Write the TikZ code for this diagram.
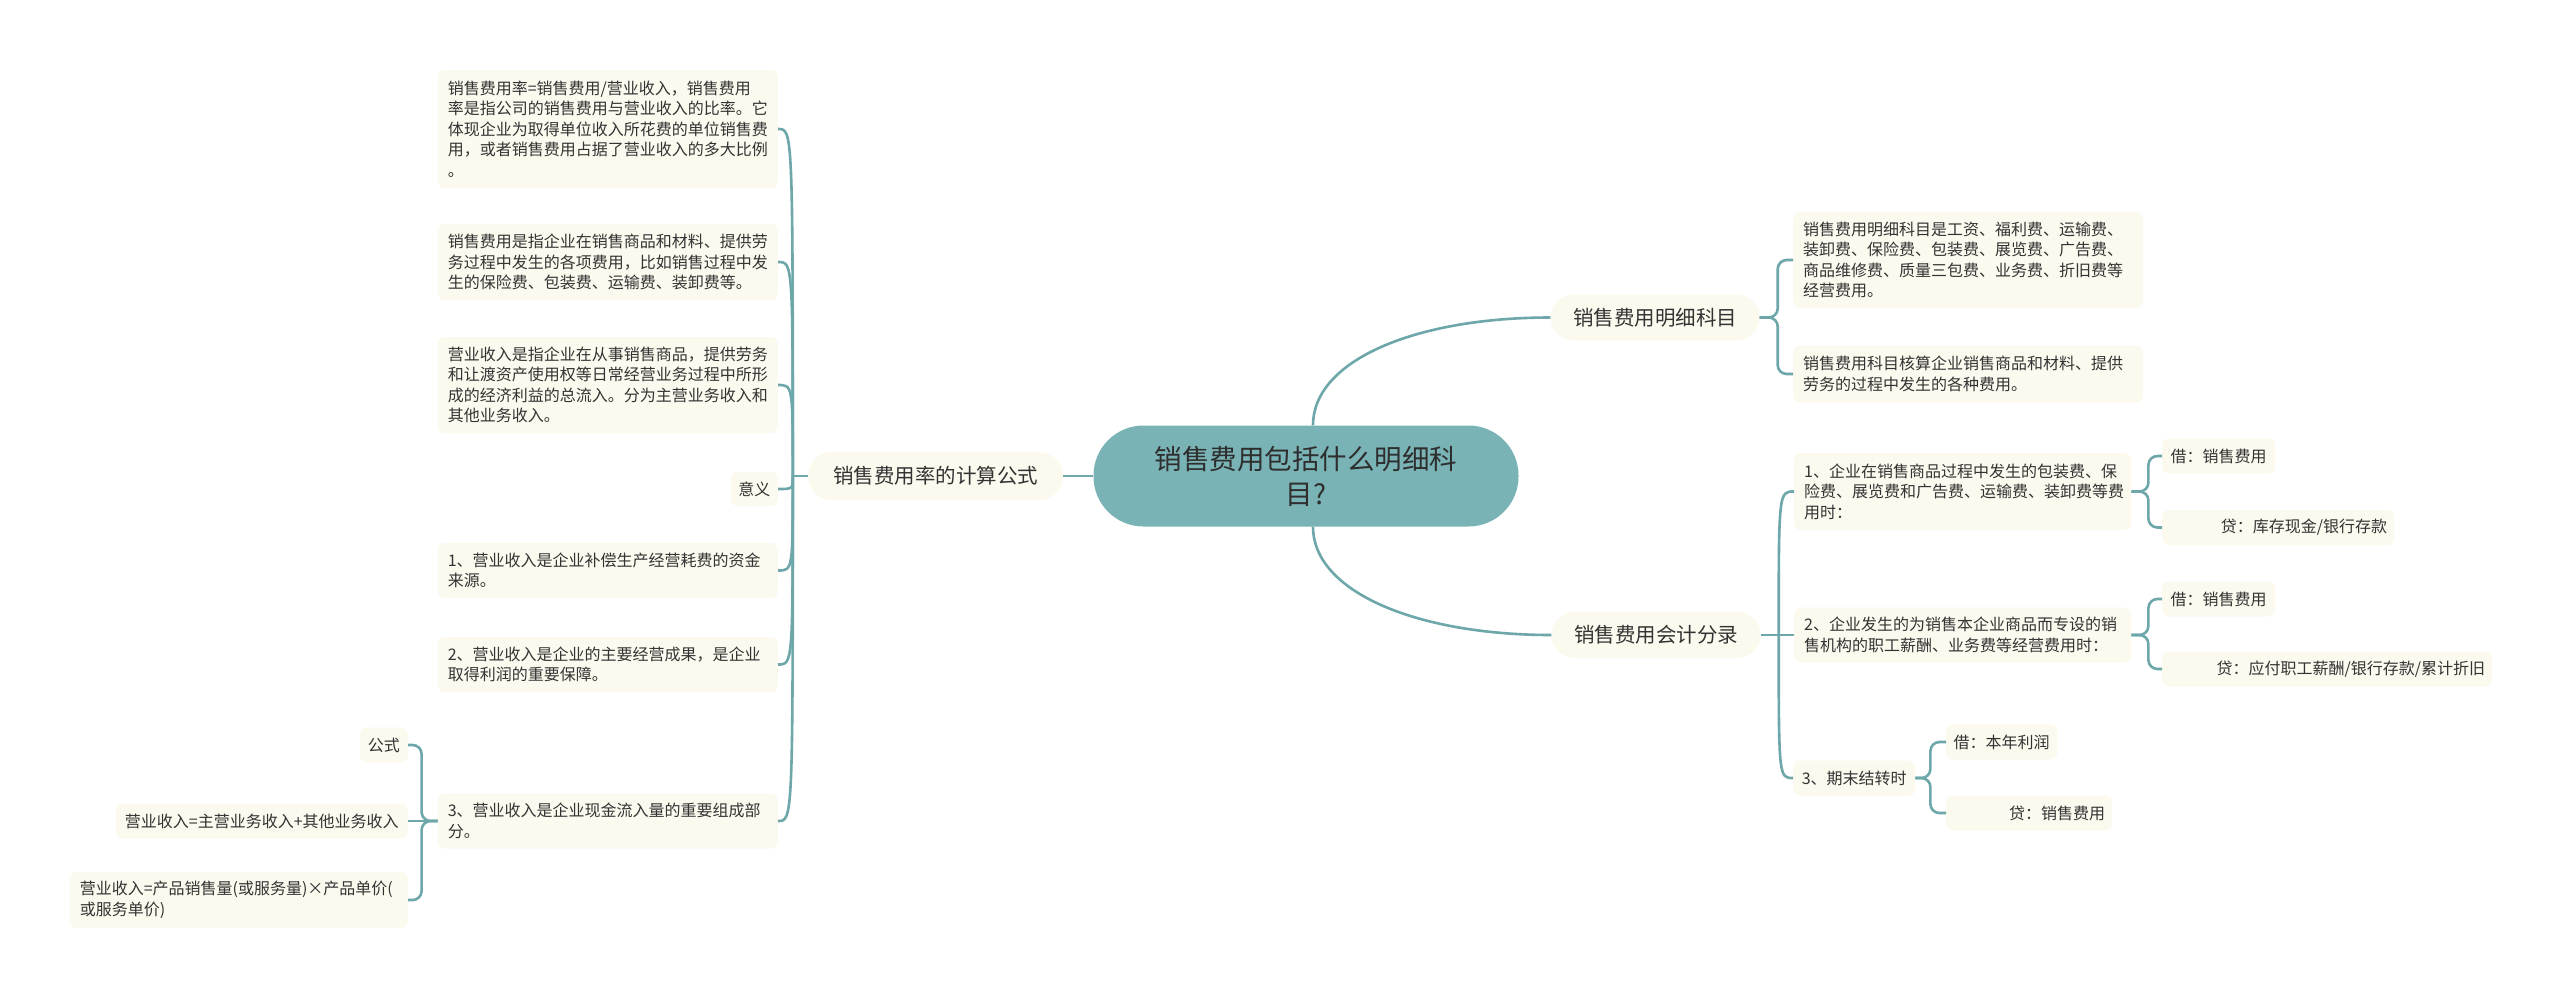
\documentclass[tikz,border=0pt]{standalone}
\usepackage{fontspec}
\newfontfamily\cjk{Noto Sans CJK SC}
\usetikzlibrary{calc}
\definecolor{lineteal}{HTML}{6DA7A9}
\definecolor{rootfill}{HTML}{7AB3B5}
\definecolor{cream}{HTML}{FCF9EE}
\definecolor{txt}{HTML}{333333}
\begin{document}
\begin{tikzpicture}[x=1pt,y=-1pt,
  conn/.style={draw=lineteal,line width=2.6pt},
  br/.style={draw=lineteal,line width=2.6pt,rounded corners=9pt},
  leaf/.style={fill=cream,rounded corners=7pt,inner xsep=10pt,inner ysep=0pt,text=txt,
    font=\cjk\fontsize{16}{20.5}\selectfont,align=left},
  tag/.style={fill=cream,rounded corners=7pt,inner xsep=7pt,inner ysep=0pt,text=txt,
    font=\cjk\fontsize{16}{20.5}\selectfont,minimum height=35pt},
  lone/.style={fill=cream,rounded corners=23pt,minimum height=46pt,text=txt,
    font=\cjk\fontsize{20.5}{24}\selectfont,inner xsep=0pt},
  rootbox/.style={fill=rootfill,rounded corners=50pt,minimum width=425pt,minimum height=101pt,
    text=black!82,font=\cjk\fontsize{27.5}{35}\selectfont,align=center}
]
\fill[white] (0,0) rectangle (2560,997);
\useasboundingbox (0,0) rectangle (2560,997);

% root and first level
\node[rootbox] (ct) at (1306,476) {销售费用包括什么明细科\\目?};
\node[lone,minimum width=255pt,minimum height=48pt,rounded corners=24pt] (la) at (935.5,476) {销售费用率的计算公式};
\node[lone,minimum width=209pt] (ra) at (1655,317.5) {销售费用明细科目};
\node[lone,minimum width=209pt] (rb) at (1656,635) {销售费用会计分录};

% left leaves
\node[leaf,anchor=east,text width=320pt,minimum height=118pt] (a1) at (778,129)
 {销售费用率=销售费用/营业收入，销售费用\\率是指公司的销售费用与营业收入的比率。它\\体现企业为取得单位收入所花费的单位销售费\\用，或者销售费用占据了营业收入的多大比例\\。};
\node[leaf,anchor=east,text width=320pt,minimum height=76pt] (a2) at (778,262)
 {销售费用是指企业在销售商品和材料、提供劳\\务过程中发生的各项费用，比如销售过程中发\\生的保险费、包装费、运输费、装卸费等。};
\node[leaf,anchor=east,text width=320pt,minimum height=96pt] (a3) at (778,385)
 {营业收入是指企业在从事销售商品，提供劳务\\和让渡资产使用权等日常经营业务过程中所形\\成的经济利益的总流入。分为主营业务收入和\\其他业务收入。};
\node[tag,anchor=east,minimum width=47pt,minimum height=34pt] (a4) at (778,489) {意义};
\node[leaf,anchor=east,text width=320pt,minimum height=55pt] (a5) at (778,570.5)
 {1、营业收入是企业补偿生产经营耗费的资金\\来源。};
\node[leaf,anchor=east,text width=320pt,minimum height=55pt] (a6) at (778,664.5)
 {2、营业收入是企业的主要经营成果，是企业\\取得利润的重要保障。};
\node[leaf,anchor=east,text width=320pt,minimum height=55pt] (a7) at (778,821)
 {3、营业收入是企业现金流入量的重要组成部\\分。};

\node[tag,anchor=east,minimum width=48pt] (b1) at (408,745) {公式};
\node[tag,anchor=east,minimum width=292pt] (b2) at (408,821) {营业收入=主营业务收入+其他业务收入};
\node[leaf,anchor=east,text width=318pt,minimum height=56pt] (b3) at (408,900)
 {营业收入=产品销售量(或服务量)×产品单价(\\或服务单价)};

% right leaves
\node[leaf,anchor=west,text width=330pt,minimum height=96pt] (ra1) at (1793,260)
 {销售费用明细科目是工资、福利费、运输费、\\装卸费、保险费、包装费、展览费、广告费、\\商品维修费、质量三包费、业务费、折旧费等\\经营费用。};
\node[leaf,anchor=west,text width=330pt,minimum height=57pt] (ra2) at (1793,374)
 {销售费用科目核算企业销售商品和材料、提供\\劳务的过程中发生的各种费用。};

\node[leaf,anchor=west,text width=317pt,minimum height=77pt] (rb1) at (1794,491.5)
 {1、企业在销售商品过程中发生的包装费、保\\险费、展览费和广告费、运输费、装卸费等费\\用时：};
\node[leaf,anchor=west,text width=317pt,minimum height=55pt] (rb2) at (1794,635)
 {2、企业发生的为销售本企业商品而专设的销\\售机构的职工薪酬、业务费等经营费用时：};
\node[tag,anchor=west,minimum width=122pt] (rb3) at (1793,778) {3、期末结转时};

\node[tag,anchor=west,minimum width=113pt] (rb1a) at (2162,456) {借：销售费用};
\node[tag,anchor=west,inner xsep=7pt,text width=218pt,align=right] (rb1b) at (2162,527.5) {贷：库存现金/银行存款};
\node[tag,anchor=west,minimum width=113pt] (rb2a) at (2162,599) {借：销售费用};
\node[tag,anchor=west,inner xsep=7pt,text width=316pt,align=right] (rb2b) at (2162,669) {贷：应付职工薪酬/银行存款/累计折旧};
\node[tag,anchor=west,minimum width=111pt] (rb3a) at (1946,742) {借：本年利润};
\node[tag,anchor=west,inner xsep=7pt,text width=152pt,align=right] (rb3b) at (1946,813) {贷：销售费用};

% root connectors
\draw[conn] (ct.west) -- (la.east);
\draw[conn] ([xshift=7pt]ct.north) .. controls +(0,-65) and +(-135,0) .. (ra.west);
\draw[conn] ([xshift=7pt]ct.south) .. controls +(0,65) and +(-135,0) .. (rb.west);

% left spine
\coordinate (ls) at ($(la.west)+(-15,0)$);
\draw[conn] (la.west) -- (ls);
\foreach \n in {a1,a2,a3,a4,a5,a6,a7}
  \draw[conn] (ls) .. controls (ls |- \n.east) and (ls |- \n.east) .. (\n.east);

% a7 bracket
\draw[br] (a7.west) -- ++(-16,0) |- (b1.east);
\draw[conn] (a7.west) -- (b2.east);
\draw[br] (a7.west) -- ++(-16,0) |- (b3.east);

% right upper bracket
\draw[br] (ra.east) -- ++(18,0) |- (ra1.west);
\draw[br] (ra.east) -- ++(18,0) |- (ra2.west);

% right lower spine
\coordinate (rs) at ($(rb.east)+(18,0)$);
\draw[conn] (rb.east) -- (rs);
\draw[conn] (rs) .. controls (rs |- rb1.west) and (rs |- rb1.west) .. (rb1.west);
\draw[conn] (rs) -- (rb2.west);
\draw[conn] (rs) .. controls (rs |- rb3.west) and (rs |- rb3.west) .. (rb3.west);

% sub brackets
\draw[br] (rb1.east) -- ++(17,0) |- (rb1a.west);
\draw[br] (rb1.east) -- ++(17,0) |- (rb1b.west);
\draw[br] (rb2.east) -- ++(17,0) |- (rb2a.west);
\draw[br] (rb2.east) -- ++(17,0) |- (rb2b.west);
\draw[br] (rb3.east) -- ++(15,0) |- (rb3a.west);
\draw[br] (rb3.east) -- ++(15,0) |- (rb3b.west);
\end{tikzpicture}
\end{document}
